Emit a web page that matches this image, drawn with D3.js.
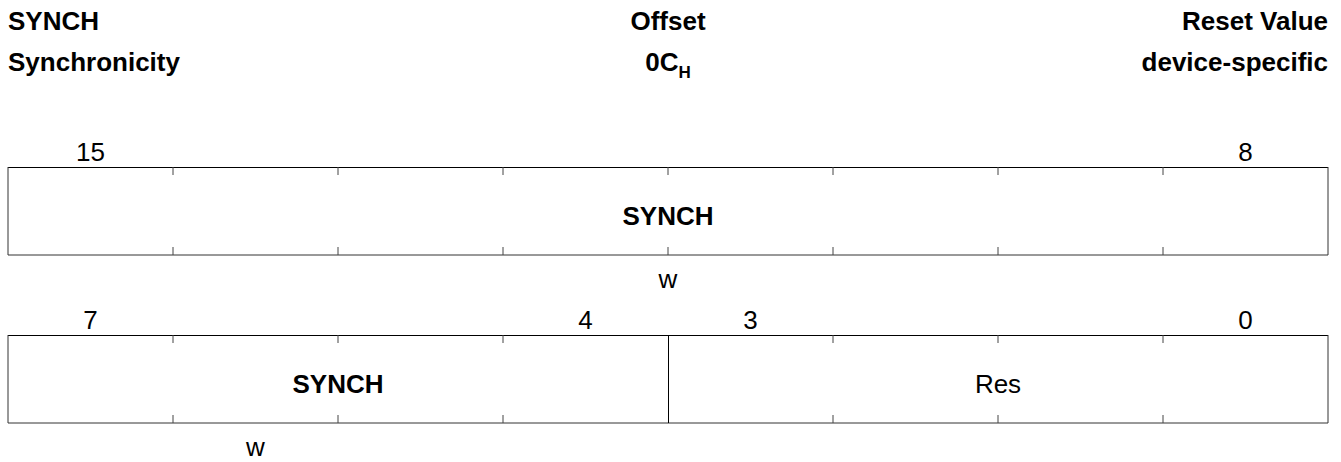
<!DOCTYPE html>
<html>
<head>
<meta charset="utf-8">
<script src="https://cdn.jsdelivr.net/npm/d3@7/dist/d3.min.js"></script>
<style>
html,body{margin:0;padding:0;background:#fff;}
svg{display:block;font-family:"Liberation Sans",Arial,Helvetica,sans-serif;}
</style>
</head>
<body>
<svg id="chart" width="1341" height="462"></svg>
<script>
// ---- data ----
const registerName = "SYNCH";
const registerLongName = "Synchronicity";
const offsetLabel = "Offset";
const offsetValue = "0C";
const offsetSuffix = "H";
const resetLabel = "Reset Value";
const resetValue = "device-specific";

// rows of the register, high bit .. low bit
const rowHigh = [15, 7];
const rowLow  = [8, 0];
// fields: name, msb, lsb, access, bold name
const fieldNames  = ["SYNCH", "SYNCH", "Res"];
const fieldMsb    = [15, 7, 3];
const fieldLsb    = [8, 4, 0];
const fieldAccess = ["w", "w", ""];
const fieldBold   = [true, true, false];
// bit numbers shown above each row
const bitLabels = [[15, 8], [7, 4, 3, 0]];

// ---- layout ----
const left = 8, right = 1328;
const rowTop = [167, 335];
const rowH = 88;
const fs = 26;
const tickLen = 8;

const svg = d3.select("#chart");

// header
const hdr = svg.append("g").attr("font-weight", "bold").attr("font-size", fs).attr("fill", "#000");
hdr.append("text").attr("x", left).attr("y", 30).text(registerName);
hdr.append("text").attr("x", left).attr("y", 71).text(registerLongName);
hdr.append("text").attr("x", (left + right) / 2).attr("y", 30).attr("text-anchor", "middle").text(offsetLabel);
const off = hdr.append("text").attr("x", (left + right) / 2).attr("y", 71).attr("text-anchor", "middle");
off.append("tspan").text(offsetValue);
off.append("tspan").attr("font-size", 17).attr("dy", 7).text(offsetSuffix);
hdr.append("text").attr("x", right).attr("y", 30).attr("text-anchor", "end").text(resetLabel);
hdr.append("text").attr("x", right).attr("y", 71).attr("text-anchor", "end").text(resetValue);

rowHigh.forEach((hi, r) => {
  const lo = rowLow[r];
  const x = d3.scaleLinear().domain([hi + 1, lo]).range([left, right]);
  const top = rowTop[r], bot = top + rowH;
  const g = svg.append("g");

  // frame
  g.append("line").attr("x1", left).attr("x2", right).attr("y1", top + 0.5).attr("y2", top + 0.5)
    .attr("stroke", "#000").attr("stroke-width", 1);
  g.append("line").attr("x1", left).attr("x2", right).attr("y1", bot).attr("y2", bot)
    .attr("stroke", "#333").attr("stroke-width", 1);
  g.append("line").attr("x1", left).attr("x2", left).attr("y1", top).attr("y2", bot)
    .attr("stroke", "#333").attr("stroke-width", 1);
  g.append("line").attr("x1", right).attr("x2", right).attr("y1", top).attr("y2", bot)
    .attr("stroke", "#333").attr("stroke-width", 1);

  // fields in this row
  const fIdx = fieldNames.map((d, i) => i).filter(i => fieldMsb[i] <= hi && fieldLsb[i] >= lo);
  const boundaries = new Set();
  fIdx.forEach(i => { if (fieldLsb[i] > lo) boundaries.add(fieldLsb[i]); });

  // ticks at internal bit boundaries
  const ticks = d3.range(lo + 1, hi + 1).filter(b => !boundaries.has(b));
  g.selectAll("line.tt").data(ticks).join("line")
    .attr("x1", b => x(b)).attr("x2", b => x(b)).attr("y1", top).attr("y2", top + tickLen)
    .attr("stroke", "#444").attr("stroke-width", 1);
  g.selectAll("line.tb").data(ticks).join("line")
    .attr("x1", b => x(b)).attr("x2", b => x(b)).attr("y1", bot - tickLen).attr("y2", bot)
    .attr("stroke", "#444").attr("stroke-width", 1);

  // field dividers
  g.selectAll("line.div").data([...boundaries]).join("line")
    .attr("x1", b => x(b) + 0.5).attr("x2", b => x(b) + 0.5).attr("y1", top).attr("y2", bot)
    .attr("stroke", "#000").attr("stroke-width", 1);

  // field names & access
  fIdx.forEach(i => {
    const cx = (x(fieldMsb[i] + 1) + x(fieldLsb[i])) / 2;
    g.append("text").attr("x", cx).attr("y", top + 58).attr("text-anchor", "middle")
      .attr("font-size", fs).attr("font-weight", fieldBold[i] ? "bold" : "normal").text(fieldNames[i]);
    if (fieldAccess[i]) {
      const ax = r === 0 ? cx : x(fieldMsb[i] - 0.5);
      g.append("text").attr("x", ax).attr("y", bot + 33).attr("text-anchor", "middle")
        .attr("font-size", fs).text(fieldAccess[i]);
    }
  });

  // bit numbers
  g.selectAll("text.bit").data(bitLabels[r]).join("text")
    .attr("x", b => x(b + 0.5)).attr("y", top - 6).attr("text-anchor", "middle")
    .attr("font-size", fs).text(b => b);
});
</script>
</body>
</html>
